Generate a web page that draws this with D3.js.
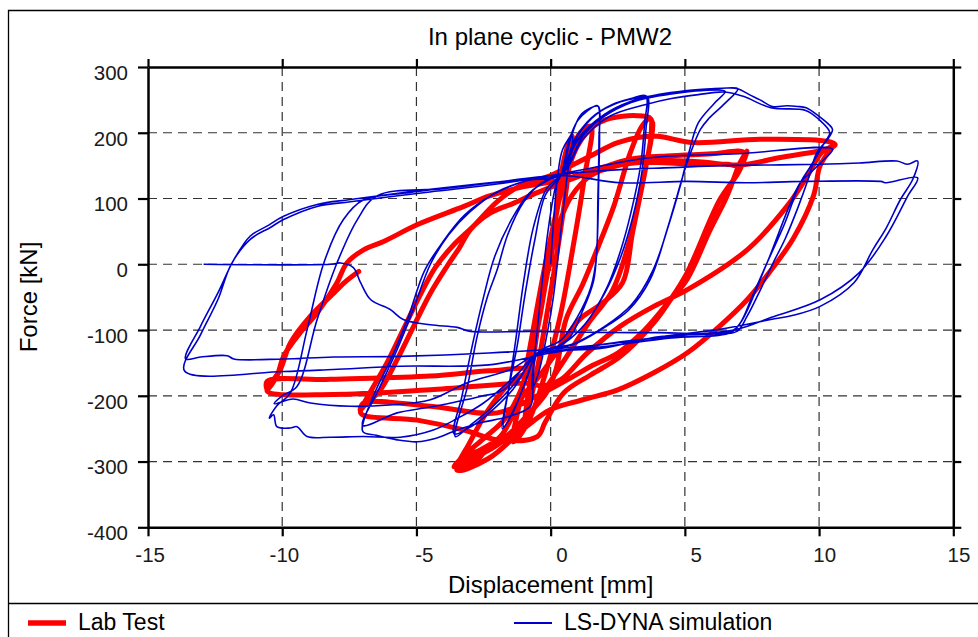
<!DOCTYPE html>
<html>
<head>
<meta charset="utf-8">
<script src="https://cdn.jsdelivr.net/npm/d3@7"></script>
<style>
  body { margin: 0; background: #fff; }
  text { font-family: "Liberation Sans", Arial, sans-serif; }
</style>
</head>
<body>
<svg id="chart" width="978" height="637"></svg>
<script>
// Axis ticks
const xTicks = [-15, -10, -5, 0, 5, 10, 15];
const yTicks = [300, 200, 100, 0, -100, -200, -300, -400];

// Lab test: [displacement mm, force kN], in loading order
const labSmall = [[0,0],[0.25,90],[0.5,160],[0.8,195],[0.6,120],[0.25,20],[-0.2,-90],[-0.6,-180],[-0.95,-235],[-0.7,-160],[-0.35,-60],[0.1,50],[0.6,150],[1.1,200],[1.5,210],[1.25,130],[0.85,30],[0.35,-80],[-0.3,-180],[-0.9,-245],[-1.4,-270],[-1.1,-200],[-0.7,-110],[-0.2,0],[0.4,110],[1.0,180],[1.6,210],[2.06,220]];
const labCycle35 = [[2.68,225],[3.2,226],[3.68,223],[3.8,215],[3.55,149],[3.05,48],[2.68,-28],[1.9,-60],[1.07,-84],[0.2,-135],[-0.42,-170],[-1.04,-201],[-1.87,-262],[-2.6,-282],[-3.11,-292],[-3.49,-313],
  [-2.8,-300],[-2.28,-277],[-1.66,-262],[-1.04,-237],[-0.17,-196],[0.2,-160],[0.57,-84],[1.2,-30],[1.9,40],[2.35,88],[2.97,170],[3.4,210],[3.7,222],
  [3.75,200],[3.4,120],[2.9,30],[2.3,-40],[1.4,-90],[0.6,-140],[-0.2,-190],[-1.0,-240],[-2.0,-275],[-2.9,-295],[-3.6,-308],
  [-3.2,-290],[-2.5,-265],[-1.7,-235],[-1.0,-180],[-0.5,-100],[-0.1,-10],[0.3,60],[0.8,105],[1.5,135],[2.5,150],[3.45,155]];
const labCycle7 = [[5,153],[6.57,152],[7.07,150],[7.32,172],[7.0,140],[6.3,98],[5.08,-13],[4.46,-54],[3.84,-89],[2.6,-140],[1.5,-168],[0.5,-195],[-0.2,-240],[-0.5,-262],[-1.99,-267],[-3.23,-252],[-4.97,-237],[-7.08,-226],
  [-6.34,-191],[-5.72,-145],[-5.1,-94],[-4.48,-44],[-3.86,-3],[-3.4,25],[-2.98,53],[-2.24,78],[-1.37,93],[-0.5,109],[0.5,125],[1.8,145],[3.0,160],[4.5,165],[6.0,168],[7.2,170],
  [7.0,150],[6.57,104],[5.95,53],[5.08,-23],[4.46,-54],[3.5,-100],[2.5,-135],[1.5,-155],[0.86,-170],[-0.5,-200],[-1.99,-226],[-4.48,-216],[-6.98,-211],[-7.1,-222],
  [-6.8,-200],[-6.1,-150],[-5.5,-100],[-4.9,-50],[-4.3,-5],[-3.6,30],[-2.9,57],[-2.0,95],[-1.2,118],[0,135],[1.5,165],[2.5,185],[3.83,195]];
const labCycle105 = [[5.3,185],[7.8,190],[10.3,187],[10.6,182],
  [10.5,178],[10.04,150],[9.79,104],[9.05,40],[8.1,-15],[7.32,-54],[6.3,-94],[5.08,-135],[3.84,-165],[2.5,-191],[1.2,-206],[0,-221],[-1.0,-250],[-2.3,-295],[-3.49,-313],
  [-3.0,-270],[-2.3,-220],[-1.5,-180],[-0.76,-160],[-2.28,-162],[-4.48,-170],[-8.2,-175],[-10.56,-178],
  [-10.56,-190],[-10.2,-170],[-9.95,-140],[-9.33,-104],[-8.7,-74],[-7.96,-28],[-7.59,2],[-6.97,22],[-6.2,35],[-4.98,60],[-3.23,88],[-2.28,104],[-1.0,118],[0.48,129],[2,148],[3.5,158],[5.5,156],[7.07,151],[8.5,162],[10.3,175],[10.53,180],
  [10.1,170],[9.5,130],[8.8,88],[7.32,22],[5.08,-39],[3.84,-64],[2.6,-94],[1.36,-135],[0.36,-176],[-0.38,-185],[-0.76,-181],[-4.48,-191],[-8.1,-198],[-10.56,-193],
  [-10.4,-180],[-10.07,-160],[-9.7,-120],[-8.95,-79],[-8.08,-44],[-7.6,-25],[-7.15,-11]];

// LS-DYNA simulation: [displacement mm, force kN], in loading order
const simSmall = [[0,0],[0.1,60],[0.25,130],[0.45,175],[0.8,195],[0.6,130],[0.35,40],[0.1,-50],[-0.2,-120],[-0.45,-165],[-0.7,-190],[-0.55,-120],[-0.35,-40],[-0.1,50],[0.2,120],[0.4,137]];
const simCycle2 = [[0.7,190],[1.0,218],[1.36,233],[1.75,241],
  [1.82,200],[1.79,129],[1.73,30],[1.6,-25],[1.2,-70],[0.73,-110],[0.1,-128],[-0.5,-135],
  [-0.9,-175],[-1.3,-215],[-1.75,-247],
  [-1.5,-176],[-1.25,-125],[-0.95,-45],[-0.6,35],[-0.2,105],[0.4,137],
  [0.75,192],[1.1,226],[1.5,238],[1.78,240],
  [1.8,190],[1.76,100],[1.7,10],[1.5,-35],[1.0,-80],[0.4,-115],[-0.5,-135],
  [-1.0,-185],[-1.4,-225],[-1.8,-250],
  [-1.55,-185],[-1.3,-115],[-1.0,-25],[-0.65,55],[-0.15,115],[0.4,137]];
const simCycle35 = [[0.9,190],[1.5,222],[2.3,243],[3.0,252],[3.55,256],
  [3.5,215],[3.35,150],[3.0,80],[2.6,20],[2.1,-35],[1.3,-90],[0.4,-122],[-0.5,-135],
  [-1.2,-175],[-2.2,-218],[-3.0,-245],[-3.55,-262],
  [-3.1,-186],[-2.74,-110],[-2.36,-50],[-1.99,-8],[-1.6,45],[-1.0,95],[-0.3,125],[0.4,137],
  [1.0,195],[1.7,228],[2.6,247],[3.2,253],[3.6,255],
  [3.55,205],[3.4,140],[3.05,70],[2.6,10],[2.0,-45],[1.2,-95],[0.3,-125],[-0.5,-135],
  [-1.4,-190],[-2.4,-230],[-3.1,-250],[-3.6,-258],
  [-3.3,-200],[-2.9,-120],[-2.5,-50],[-2.1,10],[-1.5,65],[-0.8,108],[0,130],[0.4,137]];
const simCycle7 = [[1.0,188],[2.0,225],[3.0,246],[4.0,257],[5.0,263],[6.0,266],[6.97,267],
  [6.5,245],[5.9,222],[5.58,205],[5.08,154],[4.71,104],[4.34,53],[3.71,-23],[2.9,-70],[1.85,-100],[0.85,-122],[-0.5,-135],
  [-1.75,-191],[-2.62,-201],[-4.48,-217],[-5.72,-226],[-7.0,-245],
  [-6.46,-195],[-5.72,-130],[-5.12,-69],[-4.48,0],[-3.8,45],[-3.0,80],[-2.0,110],[-0.8,128],[0.4,137],
  [1.2,195],[2.2,232],[3.3,250],[4.5,259],[5.6,264],[6.5,263],
  [6.1,245],[5.5,215],[5.15,170],[4.8,115],[4.4,60],[3.8,-10],[3.0,-62],[2.0,-95],[0.9,-120],[-0.5,-137],
  [-0.65,-180],[-0.76,-216],[-1.6,-232],[-2.62,-241],[-3.48,-252],[-4.3,-265],[-4.97,-270],[-5.72,-267],[-6.5,-260],[-7.0,-254],
  [-6.6,-200],[-5.9,-140],[-5.3,-80],[-4.7,-10],[-4.0,35],[-3.2,75],[-2.2,105],[-1,126],[0.4,137]];
const simCycle105 = [[1.0,190],[2.0,228],[3.0,248],[4.0,258],[5.0,264],[6.0,267],[6.6,268],[6.97,267],[7.4,258],[7.8,250],[8.26,240],[8.8,241],[9.2,240],[9.52,238],[10.0,225],[10.3,215],[10.5,205],
  [10.32,190],[9.92,170],[9.6,130],[9.2,85],[8.75,40],[8.3,3],[7.8,-40],[7.32,-79],[6.94,-102],[6.0,-106],[4.08,-110],[1.85,-128],[-0.5,-137],
  [-1.2,-165],[-2.5,-211],[-3.5,-235],[-4.37,-252],[-5.6,-263],[-6.97,-262],[-8.2,-263],[-9.07,-262],[-9.45,-247],[-9.7,-249],[-10.2,-247],[-10.32,-229],[-10.48,-234],
  [-10.2,-215],[-9.7,-196],[-9.07,-99],[-8.45,2],[-7.72,68],[-6.97,98],[-5.5,108],[-3,120],[-1,130],[0.4,137],
  [1.2,190],[2.2,225],[3.55,243],[4.5,252],[5.5,258],[6.5,262],[7.2,255],[8.2,238],[9.5,234],[10.0,220],[10.4,200],
  [10.2,185],[9.7,150],[9.3,124],[8.7,60],[8.06,2],[7.5,-50],[7.07,-89],[6.7,-104],[4.5,-112],[2.0,-125],[-0.5,-137],
  [-1.5,-160],[-3.1,-180],[-4.48,-206],[-6,-214],[-7.46,-216],[-8.95,-211],[-9.6,-205],[-10.3,-212],
  [-10.0,-200],[-9.45,-186],[-8.7,-84],[-7.96,2],[-7.2,68],[-6.47,104],[-4,115],[-1.5,127],[0.4,137]];
const simCycle137 = [[2.6,144],[4.5,147],[6.3,150],[8.2,151],[10.0,152],[11.5,154],[12.9,157],[13.3,152],[13.67,157],
  [13.5,130],[13.03,98.5],[12.5,55],[12.0,22],[11.3,-28],[10.04,-64],[9,-78],[8.2,-84],[6.3,-99],[4.5,-108],[2.6,-119],[0.3,-128],[-2.3,-135],[-5.6,-140],[-8.1,-141],[-9.95,-144],[-11.8,-144],[-12.05,-139],[-13.04,-141],[-13.6,-144],
  [-13.04,-94],[-12.4,-44],[-11.8,7],[-11.19,43],[-10.57,58],[-9.95,73],[-8.7,91],[-7.46,98.6],[-4.48,114],[-2,125],[0.4,135],
  [2.6,124],[5.1,126],[7.3,124],[9.4,126],[12.3,126],[12.5,124],[13.67,131.6],
  [13.3,103.6],[12.5,42.6],[11.5,-12.6],[10.04,-54],[8.2,-81],[6.94,-99],[4.5,-110],[2.6,-118],[0,-135],[-2.3,-153],[-5.6,-155],[-8.1,-160],[-9.95,-163],[-13.64,-162],
  [-13.04,-107],[-12.4,-54],[-11.9,0],[-11.19,38],[-10.44,56],[-9.95,68],[-8.7,88],[-7.46,95],[-4.5,110],[-2,122],[0.57,139]];
const simFinal = [[3.7,162],[7,168],[10.5,175],
  [10.2,160],[9.7,140],[9.3,124],[8.06,2],[7.07,-89],[6.7,-102],[4,-104],[1,-103],[-0.76,-102],[-2.99,-102],[-3.48,-96],[-4.48,-92],[-5.49,-84],[-5.97,-69],[-6.7,-54],[-7.08,-28],[-7.35,-5],[-7.83,2],[-8.2,0],[-12.93,0]];

const labTest = [].concat(labSmall, labCycle35, labCycle7, labCycle105);
const lsDyna = [].concat(simSmall, simCycle2, simCycle35, simCycle7, simCycle105, simCycle137, simFinal);

const svg = d3.select("#chart");
const x = d3.scaleLinear().domain([-15, 15]).range([148, 953.3]);
const y = d3.scaleLinear().domain([-400, 300]).range([527.3, 67]);

// Outer frame and legend separator
svg.append("path").attr("d", "M8.5,637V10.5H978")
  .attr("fill", "none").attr("stroke", "#000").attr("stroke-width", 1.3);
svg.append("line").attr("x1", 8).attr("x2", 978).attr("y1", 603.5).attr("y2", 603.5)
  .attr("stroke", "#000").attr("stroke-width", 1.3);

// Dashed grid
const grid = svg.append("g").attr("stroke", "#333").attr("stroke-width", 1.2).attr("stroke-dasharray", "9,6");
grid.selectAll(null).data(xTicks.slice(1, -1)).join("line")
  .attr("x1", d => x(d)).attr("x2", d => x(d)).attr("y1", y(300)).attr("y2", y(-400));
grid.selectAll(null).data(yTicks.slice(1, -1)).join("line")
  .attr("x1", x(-15)).attr("x2", x(15)).attr("y1", d => y(d)).attr("y2", d => y(d));

// Hysteresis curves
const line = d3.line().x(d => x(d[0])).y(d => y(d[1])).curve(d3.curveCatmullRom.alpha(0.5));
svg.append("path").datum(labTest).attr("d", line)
  .attr("fill", "none").attr("stroke", "#ff0000").attr("stroke-width", 5)
  .attr("stroke-linejoin", "round").attr("stroke-linecap", "round");
svg.append("path").datum(lsDyna).attr("d", line)
  .attr("fill", "none").attr("stroke", "#0000cc").attr("stroke-width", 1.6)
  .attr("stroke-linejoin", "round");

// Axes
const fmt = d => String(d);
const styleAxis = g => {
  g.attr("font-family", '"Liberation Sans", Arial, sans-serif').attr("font-size", 20.5);
  g.select(".domain").attr("stroke", "#000").attr("stroke-width", 2.5);
  g.selectAll(".tick line").attr("stroke", "#000").attr("stroke-width", 2.2);
  g.selectAll(".tick text").attr("fill", "#1a1a1a");
};
svg.append("g").attr("transform", `translate(${x(-15)},0)`)
  .call(d3.axisLeft(y).tickValues(yTicks).tickSize(10).tickSizeOuter(0).tickFormat(fmt))
  .call(styleAxis)
  .call(g => g.selectAll(".tick text").attr("x", -20).attr("dy", null).attr("y", 12.3).attr("text-anchor", "end"));
svg.append("g").attr("transform", `translate(0,${y(-400)})`)
  .call(d3.axisBottom(x).tickValues(xTicks).tickSize(9).tickSizeOuter(0).tickFormat(fmt))
  .call(styleAxis)
  .call(g => g.selectAll(".tick text").attr("x", 16.5).attr("dy", null).attr("y", 34.4).attr("text-anchor", "end"));
svg.append("g").attr("transform", `translate(0,${y(300)})`)
  .call(d3.axisTop(x).tickValues(xTicks).tickSize(8).tickSizeOuter(0).tickFormat(""))
  .call(styleAxis);
svg.append("g").attr("transform", `translate(${x(15)},0)`)
  .call(d3.axisRight(y).tickValues(yTicks).tickSize(8).tickSizeOuter(0).tickFormat(""))
  .call(styleAxis);

// Titles
svg.append("text").attr("x", 550).attr("y", 45).attr("text-anchor", "middle")
  .attr("font-size", 24).attr("fill", "#000").text("In plane cyclic - PMW2");
svg.append("text").attr("x", 550.7).attr("y", 593).attr("text-anchor", "middle")
  .attr("font-size", 24).attr("fill", "#000").text("Displacement [mm]");
svg.append("text").attr("transform", "translate(37,297) rotate(-90)").attr("text-anchor", "middle")
  .attr("font-size", 24).attr("fill", "#000").text("Force [kN]");

// Legend
const legend = [
  { label: "Lab Test", color: "#ff0000", width: 5.5, x0: 28 },
  { label: "LS-DYNA simulation", color: "#0000cc", width: 2, x0: 514 }
];
const lg = svg.append("g");
lg.selectAll(null).data(legend).join("line")
  .attr("x1", d => d.x0).attr("x2", d => d.x0 + 38).attr("y1", 623).attr("y2", 623)
  .attr("stroke", d => d.color).attr("stroke-width", d => d.width);
lg.selectAll(null).data(legend).join("text")
  .attr("x", d => d.x0 + 50).attr("y", 630).attr("font-size", 23).attr("fill", "#000")
  .text(d => d.label);
</script>
</body>
</html>
